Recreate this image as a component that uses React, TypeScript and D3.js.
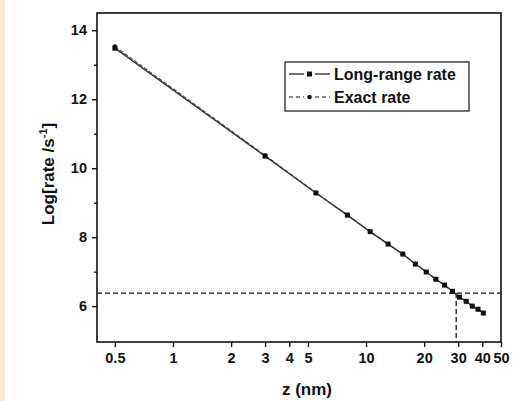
import { useEffect, useRef } from 'react';
import * as d3 from 'd3';

// Distance z (nm) of each computed point
const Z_NM = [0.5, 3, 5.5, 8, 10.5, 13, 15.5, 18, 20.5, 23, 25.5, 28, 30.5, 33, 35.5, 38, 40.5];
// log10 of the rate (s^-1)
const LONG_RANGE = [13.48, 10.35, 9.28, 8.64, 8.16, 7.8, 7.51, 7.22, 6.99, 6.78, 6.61, 6.43, 6.26, 6.14, 6.0, 5.91, 5.8];
const EXACT = [13.53, 10.37, 9.29, 8.64, 8.16, 7.8, 7.51, 7.22, 6.99, 6.78, 6.61, 6.43, 6.26, 6.14, 6.0, 5.91, 5.8];

const X_TICKS = [0.5, 1, 2, 3, 4, 5, 10, 20, 30, 40, 50];
const Y_TICKS = [6, 8, 10, 12, 14];
const Y_MINOR = [7, 9, 11, 13];

// dashed guide lines
const GUIDE_RATE = 6.38;
const GUIDE_Z = 29.3;

const WIDTH = 522;
const HEIGHT = 401;
const PLOT = { left: 97, right: 501, top: 13, bottom: 342 };
const FONT = 'Arial, "Liberation Sans", Helvetica, sans-serif';
const INK = '#111';

export default function App() {
  const svgRef = useRef<SVGSVGElement>(null);

  useEffect(() => {
    const svg = d3.select(svgRef.current);
    svg.selectAll('*').remove();
    svg.style('font-family', FONT);

    const x = d3.scaleLog().domain([0.404, 50]).range([PLOT.left, PLOT.right]);
    const y = d3.scaleLinear().domain([4.96, 14.5]).range([PLOT.bottom, PLOT.top]);

    // page background + peach strip on the left
    svg.append('rect').attr('width', WIDTH).attr('height', HEIGHT).attr('fill', '#fff');
    svg.append('rect').attr('width', 5).attr('height', HEIGHT).attr('fill', '#fce8da');

    // guide lines --------------------------------------------------------
    svg
      .append('line')
      .attr('x1', PLOT.left)
      .attr('x2', PLOT.right)
      .attr('y1', y(GUIDE_RATE))
      .attr('y2', y(GUIDE_RATE))
      .attr('stroke', INK)
      .attr('stroke-width', 1.3)
      .attr('stroke-dasharray', '5,3');
    svg
      .append('line')
      .attr('x1', x(GUIDE_Z))
      .attr('x2', x(GUIDE_Z))
      .attr('y1', y(GUIDE_RATE))
      .attr('y2', PLOT.bottom)
      .attr('stroke', INK)
      .attr('stroke-width', 1.3)
      .attr('stroke-dasharray', '5,3');

    // series ---------------------------------------------------------------
    const exact = Z_NM.map((z, i) => [z, EXACT[i]] as [number, number]);
    const longRange = Z_NM.map((z, i) => [z, LONG_RANGE[i]] as [number, number]);
    const line = d3
      .line<[number, number]>()
      .x((d) => x(d[0]))
      .y((d) => y(d[1]));

    svg
      .append('path')
      .attr('d', line(exact))
      .attr('fill', 'none')
      .attr('stroke', '#555')
      .attr('stroke-width', 1.2)
      .attr('stroke-dasharray', '4,2');
    svg
      .append('path')
      .attr('d', line(longRange))
      .attr('fill', 'none')
      .attr('stroke', '#333')
      .attr('stroke-width', 1.4);

    svg
      .selectAll('circle.exact')
      .data(exact)
      .join('circle')
      .attr('class', 'exact')
      .attr('cx', (d) => x(d[0]))
      .attr('cy', (d) => y(d[1]))
      .attr('r', 2.2)
      .attr('fill', INK);
    svg
      .selectAll('rect.long')
      .data(longRange)
      .join('rect')
      .attr('class', 'long')
      .attr('x', (d) => x(d[0]) - 2.5)
      .attr('y', (d) => y(d[1]) - 2.5)
      .attr('width', 5)
      .attr('height', 5)
      .attr('fill', INK);

    // frame ----------------------------------------------------------------
    svg
      .append('rect')
      .attr('x', PLOT.left)
      .attr('y', PLOT.top)
      .attr('width', PLOT.right - PLOT.left)
      .attr('height', PLOT.bottom - PLOT.top)
      .attr('fill', 'none')
      .attr('stroke', INK)
      .attr('stroke-width', 1.6);

    // axes -----------------------------------------------------------------
    const xAxis = svg
      .append('g')
      .attr('transform', `translate(0,${PLOT.bottom})`)
      .call(
        d3
          .axisBottom(x)
          .tickValues(X_TICKS)
          .tickFormat((d) => String(d))
          .tickSize(5)
          .tickSizeOuter(0)
          .tickPadding(6)
      );
    xAxis.select('.domain').remove();
    xAxis.selectAll('line').attr('stroke', INK).attr('stroke-width', 1.4);
    xAxis
      .selectAll('text')
      .attr('fill', INK)
      .style('font-family', FONT)
      .style('font-size', '14.5px')
      .style('font-weight', 'bold');

    const yAxis = svg
      .append('g')
      .attr('transform', `translate(${PLOT.left},0)`)
      .call(d3.axisLeft(y).tickValues(Y_TICKS).tickFormat((d) => String(d)).tickSize(5).tickSizeOuter(0).tickPadding(5));
    yAxis.select('.domain').remove();
    yAxis.selectAll('line').attr('stroke', INK).attr('stroke-width', 1.4);
    yAxis
      .selectAll('text')
      .attr('fill', INK)
      .style('font-family', FONT)
      .style('font-size', '14.5px')
      .style('font-weight', 'bold');

    const yMinor = svg
      .append('g')
      .attr('transform', `translate(${PLOT.left},0)`)
      .call(d3.axisLeft(y).tickValues(Y_MINOR).tickFormat(() => '').tickSize(3).tickSizeOuter(0));
    yMinor.select('.domain').remove();
    yMinor.selectAll('line').attr('stroke', INK).attr('stroke-width', 1.4);

    // axis titles ------------------------------------------------------------
    svg
      .append('text')
      .attr('x', (PLOT.left + PLOT.right) / 2 + 8)
      .attr('y', 395)
      .attr('text-anchor', 'middle')
      .attr('fill', INK)
      .style('font-size', '17px')
      .style('font-weight', 'bold')
      .text('z (nm)');

    const yTitle = svg
      .append('text')
      .attr('transform', `translate(54,174) rotate(-90)`)
      .attr('text-anchor', 'middle')
      .attr('fill', INK)
      .style('font-size', '17px')
      .style('font-weight', 'bold');
    yTitle.append('tspan').text('Log[rate /s');
    yTitle.append('tspan').attr('dy', -7).style('font-size', '11px').text('-1');
    yTitle.append('tspan').attr('dy', 7).text(']');

    // legend -------------------------------------------------------------------
    const legend = svg.append('g');
    legend
      .append('rect')
      .attr('x', 285)
      .attr('y', 62)
      .attr('width', 184)
      .attr('height', 49)
      .attr('fill', '#fff')
      .attr('stroke', INK)
      .attr('stroke-width', 1.2);

    const items = [
      { label: 'Long-range rate', dash: null, marker: 'square', cy: 74 },
      { label: 'Exact rate', dash: '4,3', marker: 'circle', cy: 97 },
    ];
    for (const item of items) {
      const row = legend.append('g');
      // line segments either side of the marker, with a small gap
      for (const [x1, x2] of [
        [289, 304],
        [315, 330],
      ]) {
        row
          .append('line')
          .attr('x1', x1)
          .attr('x2', x2)
          .attr('y1', item.cy)
          .attr('y2', item.cy)
          .attr('stroke', INK)
          .attr('stroke-width', 1.2)
          .attr('stroke-dasharray', item.dash);
      }
      if (item.marker === 'square') {
        row.append('rect').attr('x', 307).attr('y', item.cy - 2.5).attr('width', 5).attr('height', 5).attr('fill', INK);
      } else {
        row.append('circle').attr('cx', 309.5).attr('cy', item.cy).attr('r', 2.3).attr('fill', INK);
      }
      row
        .append('text')
        .attr('x', 334)
        .attr('y', item.cy + 6)
        .attr('fill', INK)
        .style('font-size', '16px')
        .style('font-weight', 'bold')
        .text(item.label);
    }
  }, []);

  return (
    <svg
      ref={svgRef}
      width={WIDTH}
      height={HEIGHT}
      style={{ position: 'absolute', left: 0, top: 0 }}
    />
  );
}
